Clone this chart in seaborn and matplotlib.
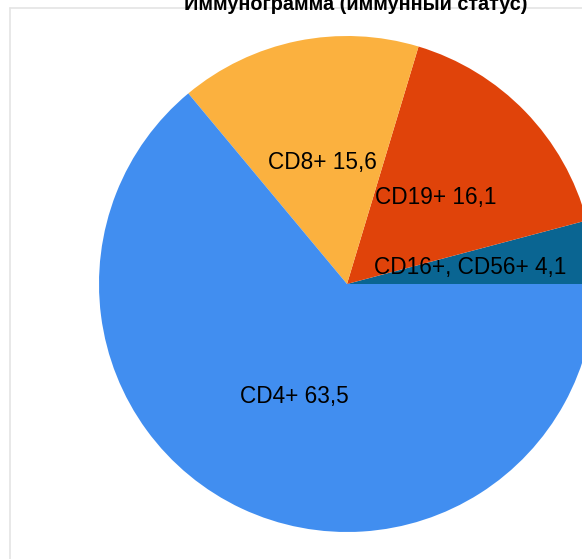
import matplotlib.pyplot as plt
import seaborn as sns
from matplotlib.lines import Line2D

# data
labels = ["CD16+, CD56+", "CD19+", "CD8+", "CD4+"]
values = [4.1, 16.1, 15.6, 63.5]
value_text = ["4,1", "16,1", "15,6", "63,5"]
colors = ["#0a6592", "#e0430a", "#fbb13f", "#418ef0"]

title = "Иммунограмма (иммунный статус)"

sns.set_theme(style="white")
plt.rcParams['font.family'] = ['Liberation Sans', 'DejaVu Sans']

W, H = 582, 559
cx, cy, r = 347, 284, 248

fig = plt.figure(figsize=(W / 100, H / 100), dpi=100)
ax = fig.add_axes([0, 0, 1, 1])

pie_labels = [f"{l} {v}" for l, v in zip(labels, value_text)]
ax.pie(values, labels=pie_labels, colors=colors, startangle=0,
       counterclock=True, labeldistance=0.5, radius=1,
       textprops={'fontsize': 16.3, 'color': 'black', 'ha': 'center', 'va': 'center'},
       wedgeprops={'linewidth': 0})

# map data units so the pie sits where it does in the reference (right side clipped)
ax.set_xlim(-cx / r, (W - cx) / r)
ax.set_ylim(-(H - cy) / r, cy / r)
ax.set_aspect('auto')
ax.axis('off')

# light frame around the chart area
fx, fy = 10 / W, 1 - 8 / H
fig.add_artist(Line2D([fx, fx], [0, fy], transform=fig.transFigure, color="#e4e4e4", lw=1.2))
fig.add_artist(Line2D([fx, 1], [fy, fy], transform=fig.transFigure, color="#e4e4e4", lw=1.2))

fig.text(356 / W, 1 - 9.5 / H, title, ha='center', va='baseline',
         fontsize=14.3, fontweight='bold', color='black')

fig.savefig("out.png", dpi=100)
